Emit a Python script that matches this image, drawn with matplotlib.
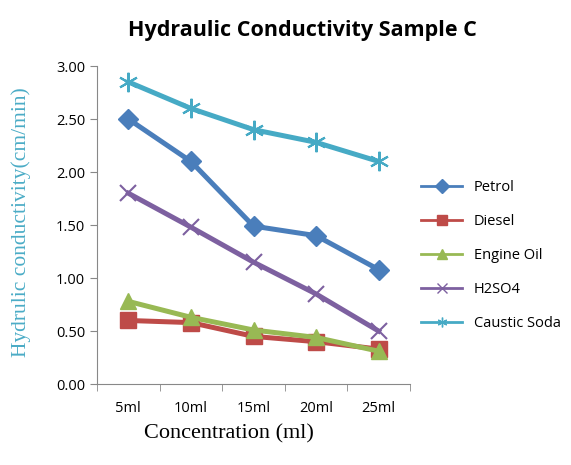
import matplotlib.pyplot as plt
from matplotlib.lines import Line2D

concentrations = ["5ml", "10ml", "15ml", "20ml", "25ml"]
series_names = ["Petrol", "Diesel", "Engine Oil", "H2SO4", "Caustic Soda"]
petrol = [2.50, 2.10, 1.49, 1.40, 1.08]
diesel = [0.60, 0.58, 0.45, 0.40, 0.33]
engine_oil = [0.78, 0.63, 0.51, 0.44, 0.31]
h2so4 = [1.80, 1.48, 1.15, 0.85, 0.50]
caustic_soda = [2.85, 2.60, 2.40, 2.28, 2.10]

colors = ["#4A7EBB", "#BE4B48", "#98B954", "#7D60A0", "#46AAC5"]
markers = ["D", "s", "^", "x", (6, 2, 0)]
sizes = [10, 11, 12, 12, 14]


def main():
    fig = plt.figure(figsize=(5.71, 4.65), dpi=100)
    ax = fig.add_axes([0.170, 0.174, 0.548, 0.684])
    x = list(range(len(concentrations)))
    values = [petrol, diesel, engine_oil, h2so4, caustic_soda]
    handles = []
    for vals, name, c, m, s in zip(values, series_names, colors, markers, sizes):
        ax.plot(x, vals, color=c, lw=3.6, marker=m, ms=s, mew=1.5 if m in ("x", (6, 2, 0)) else 1,
                mec=c, mfc=c, zorder=3)
        handles.append(Line2D([], [], color=c, lw=2, marker=m, ms=7, mec=c, mfc=c, label=name))

    ax.set_xlim(-0.5, 4.5)
    ax.set_ylim(0, 3.0)
    ax.set_yticks([0, 0.5, 1.0, 1.5, 2.0, 2.5, 3.0])
    ax.set_yticklabels([f"{v:.2f}" for v in ax.get_yticks()], fontsize=10.5, family="Open Sans")
    ax.set_xticks(x)
    ax.set_xticklabels(concentrations, fontsize=10.5, family="Open Sans")
    ax.set_xticks([i + 0.5 for i in range(-1, 5)], minor=True)
    ax.tick_params(axis="x", which="major", length=0, pad=12)
    ax.tick_params(axis="x", which="minor", length=5, color="#888888")
    ax.tick_params(axis="y", length=5, color="#888888")
    for side in ("top", "right"):
        ax.spines[side].set_visible(False)
    for side in ("left", "bottom"):
        ax.spines[side].set_color("#888888")

    ax.set_ylabel("Hydrulic conductivity(cm/min)", family="Liberation Serif", fontsize=15.5,
                  color="#4BACC6")
    ax.yaxis.set_label_coords(-0.21, 0.51)
    ax.set_xlabel("Concentration (ml)", family="Liberation Serif", fontsize=16)
    ax.xaxis.set_label_coords(0.42, -0.125)
    fig.suptitle("Hydraulic Conductivity Sample C", x=0.53, y=0.958, fontsize=15.5,
                 fontweight="bold", family="Open Sans")

    fig.legend(handles=handles, loc="center left", bbox_to_anchor=(0.715, 0.45),
               frameon=False, prop={"family": "Open Sans", "size": 10.5},
               handlelength=2.8, labelspacing=1.3)
    fig.savefig("out.png", dpi=100)
    plt.close(fig)


if __name__ == "__main__":
    main()
